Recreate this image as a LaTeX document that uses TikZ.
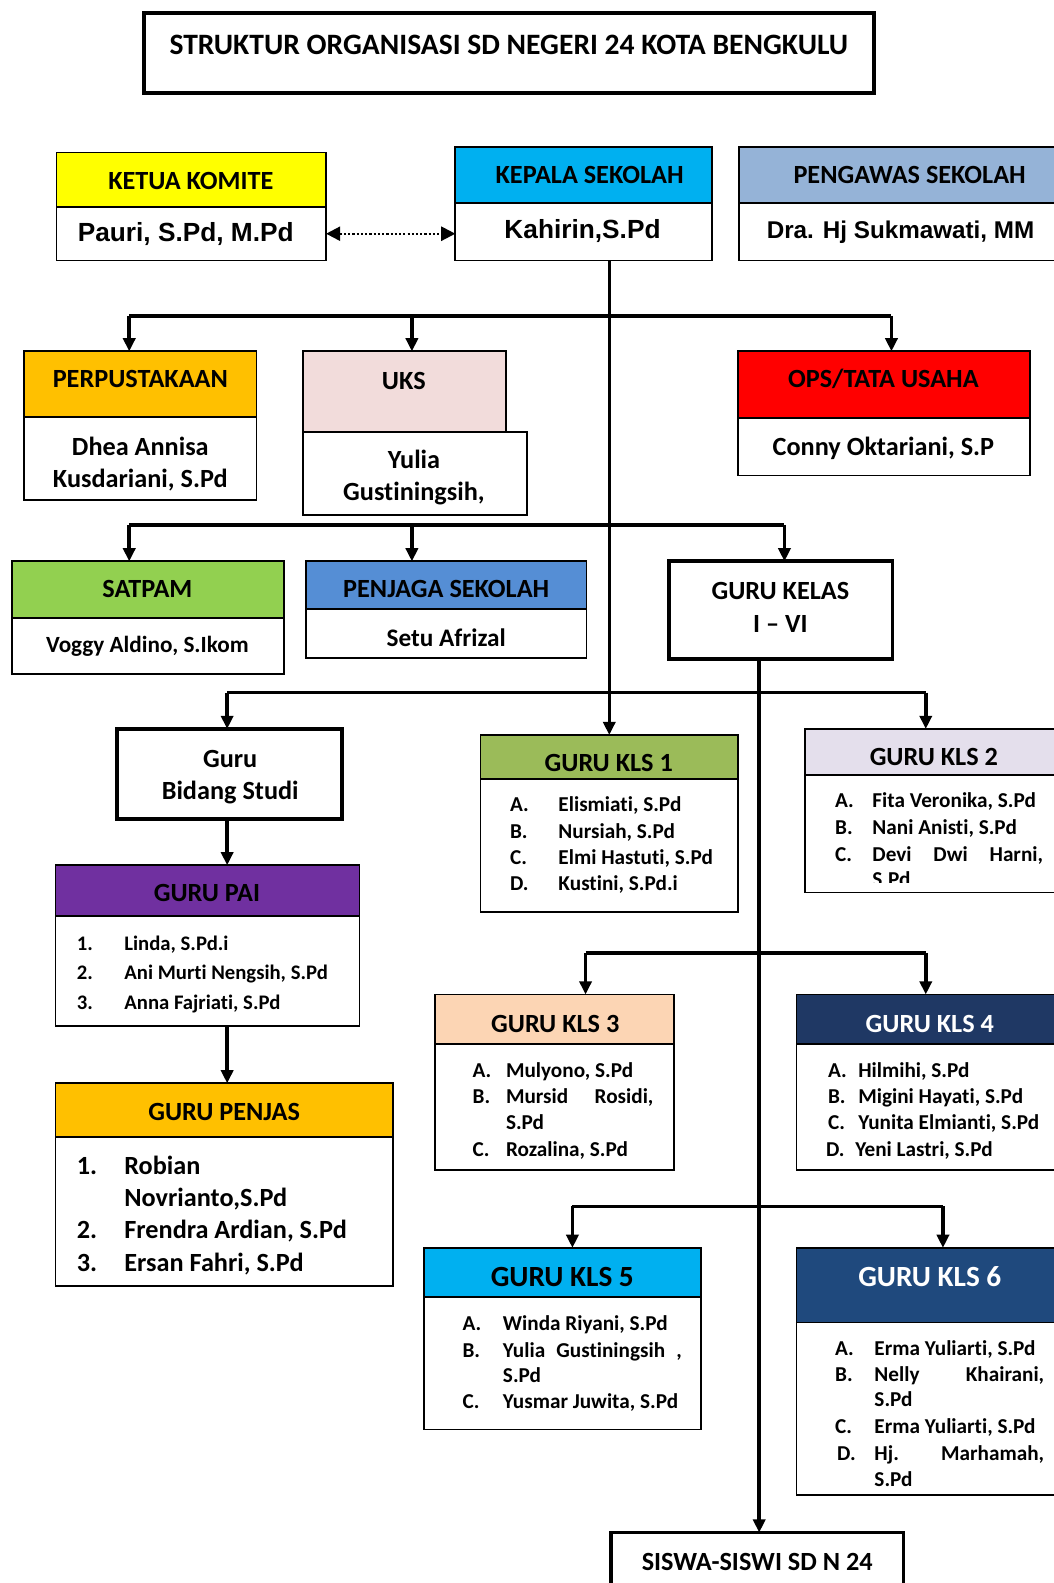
\documentclass[tikz,border=0pt]{standalone}
\usepackage{fontspec}
\setmainfont[Ligatures=NoCommon]{Carlito}
\newfontfamily\arialf{Liberation Sans}
\usetikzlibrary{arrows.meta}
\definecolor{cYel}{HTML}{FFFF00}
\definecolor{cCyan}{HTML}{00B0F0}
\definecolor{cPeng}{HTML}{95B3D7}
\definecolor{cOrange}{HTML}{FFC000}
\definecolor{cUks}{HTML}{F2DCDB}
\definecolor{cRed}{HTML}{FF0000}
\definecolor{cGreen}{HTML}{92D050}
\definecolor{cBlue}{HTML}{558ED5}
\definecolor{cOlive}{HTML}{9BBB59}
\definecolor{cLav}{HTML}{E4DFEC}
\definecolor{cPurple}{HTML}{7030A0}
\definecolor{cPeach}{HTML}{FCD5B4}
\definecolor{cNavy}{HTML}{1F3864}
\definecolor{cDBlue}{HTML}{1F497D}
\tikzset{
  box/.style={draw, line width=1.8pt, inner sep=0pt, outer sep=0pt, anchor=north west, fill=white},
  tbox/.style={box, line width=3.8pt},
  t/.style={inner sep=0pt, yshift=-6pt, text height=0.644em, text depth=0pt, font=\bfseries\fontsize{26}{30}\selectfont},
  ta/.style={inner sep=0pt, yshift=-6pt, text height=0.716em, text depth=0pt, font=\arialf\bfseries\fontsize{26}{30}\selectfont},
  it/.style={t, anchor=west, font=\bfseries\fontsize{21}{25}\selectfont},
  itp/.style={t, anchor=west, font=\bfseries\fontsize{20.5}{25}\selectfont},
  itb/.style={t, anchor=west, font=\bfseries\fontsize{26}{30}\selectfont},
  line/.style={line width=3.5pt},
  conn/.style={line width=3.5pt, -{Triangle[length=13pt,width=12pt]}},
  dconn/.style={line width=2.2pt, dotted, {Triangle[length=14pt,width=14pt]}-{Triangle[length=14pt,width=14pt]}},
}
\newcommand\bx[6]{\node[#6,minimum width={(#4-#2)*1pt},minimum height={(#5-#3)*1pt}] (#1) at (#2,#3) {};}
\begin{document}
\begin{tikzpicture}[x=1pt,y=-1pt]
\useasboundingbox (0,0) rectangle (1044,1568);
\clip (0,0) rectangle (1044,1568);
% title
\bx{title}{143}{13}{866}{92}{tbox}
\node[t, font=\bfseries\fontsize{29.3}{33}\selectfont] (titleT) at (504,45) {STRUKTUR ORGANISASI SD NEGERI 24 KOTA BENGKULU};
% ketua komite
\bx{ketH}{56}{151}{323}{205}{box,fill=cYel}
\bx{ketB}{56}{205}{323}{258}{box}
\node[t] (ketT) at (189,178) {KETUA KOMITE};
\node[ta] (ketN) at (184,230) {Pauri, S.Pd, M.Pd};
% kepala sekolah
\bx{kepH}{451}{146}{705}{201}{box,fill=cCyan}
\bx{kepB}{451}{201}{705}{258}{box}
\node[t] (kepT) at (584,173) {KEPALA SEKOLAH};
\node[ta] (kepN) at (577,227) {Kahirin,S.Pd};
% pengawas
\bx{pgH}{732}{146}{1070}{201}{box,fill=cPeng}
\bx{pgB}{732}{201}{1070}{258}{box}
\node[t] (pgT) at (901,173) {PENGAWAS SEKOLAH};
\node[ta, font=\arialf\bfseries\fontsize{24}{28}\selectfont] (pgN) at (892,227) {Dra. Hj Sukmawati, MM};
% perpustakaan
\bx{perH}{24}{348}{254}{413}{box,fill=cOrange}
\bx{perB}{24}{413}{254}{495}{box}
\node[t] (perT) at (139,375) {PERPUSTAKAAN};
\node[t] (perN1) at (139,442) {Dhea Annisa};
\node[t] (perN2) at (139,474) {Kusdariani, S.Pd};
% uks
\bx{uksH}{300}{348}{501}{428}{box,fill=cUks}
\bx{uksB}{300}{428}{522}{510}{box}
\node[t] (uksT) at (400,377) {UKS};
\node[t] (uksN1) at (410,455) {Yulia};
\node[t] (uksN2) at (410,487) {Gustiningsih,};
% ops
\bx{opsH}{731}{348}{1020}{414}{box,fill=cRed}
\bx{opsB}{731}{414}{1020}{471}{box}
\node[t] (opsT) at (875,375) {OPS/TATA USAHA};
\node[t] (opsN) at (875,442) {Conny Oktariani, S.P};
% satpam
\bx{satH}{12}{556}{281}{612}{box,fill=cGreen}
\bx{satB}{12}{612}{281}{668}{box}
\node[t] (satT) at (146,583) {SATPAM};
\node[t, font=\bfseries\fontsize{23}{27}\selectfont] (satN) at (146,637) {Voggy Aldino, S.Ikom};
% penjaga
\bx{pjH}{303}{556}{581}{603}{box,fill=cBlue}
\bx{pjB}{303}{603}{581}{652}{box}
\node[t] (pjT) at (442,583) {PENJAGA SEKOLAH};
\node[t, font=\bfseries\fontsize{25}{29}\selectfont] (pjN) at (442,631) {Setu Afrizal};
% guru kelas
\bx{gk}{663}{556}{884}{653}{tbox}
\node[t] (gkT1) at (773,585) {GURU KELAS};
\node[t] (gkT2) at (773,617) {I -- VI};
% guru bidang studi
\bx{gbs}{116}{722}{339}{811}{tbox}
\node[t] (gbsT1) at (228,751) {Guru};
\node[t] (gbsT2) at (228,783) {Bidang Studi};
% guru pai
\bx{paiH}{55}{857}{356}{907}{box,fill=cPurple}
\bx{paiB}{55}{907}{356}{1016}{box}
\node[t] (paiT) at (205,884) {GURU PAI};
\node[itp] (pai1n) at (76,932) {1.};
\node[itp] (pai1) at (123,932) {Linda, S.Pd.i};
\node[itp] (pai2n) at (76,961) {2.};
\node[itp] (pai2) at (123,961) {Ani Murti Nengsih, S.Pd};
\node[itp] (pai3n) at (76,991) {3.};
\node[itp] (pai3) at (123,991) {Anna Fajriati, S.Pd};
% guru penjas
\bx{pjsH}{55}{1073}{389}{1126}{box,fill=cOrange}
\bx{pjsB}{55}{1126}{389}{1274}{box}
\node[t] (pjsT) at (222,1101) {GURU PENJAS};
\node[itb] (pjs1n) at (76,1154) {1.};
\node[itb] (pjs1) at (123,1154) {Robian};
\node[itb] (pjs1b) at (123,1186) {Novrianto,S.Pd};
\node[itb] (pjs2n) at (76,1218) {2.};
\node[itb] (pjs2) at (123,1218) {Frendra Ardian, S.Pd};
\node[itb] (pjs3n) at (76,1250) {3.};
\node[itb] (pjs3) at (123,1250) {Ersan Fahri, S.Pd};
% kls 1
\bx{k1H}{476}{728}{731}{772}{box,fill=cOlive}
\bx{k1B}{476}{772}{731}{903}{box}
\node[t] (k1T) at (603,755) {GURU KLS 1};
\node[it] (k1an) at (505,795) {A.};
\node[it] (k1a) at (553,795) {Elismiati, S.Pd};
\node[it] (k1bn) at (505,821) {B.};
\node[it] (k1b) at (553,821) {Nursiah, S.Pd};
\node[it] (k1cn) at (505,847) {C.};
\node[it] (k1c) at (553,847) {Elmi Hastuti, S.Pd};
\node[it] (k1dn) at (505,873) {D.};
\node[it] (k1d) at (553,873) {Kustini, S.Pd.i};
% kls 2
\bx{k2H}{797}{722}{1070}{768}{box,fill=cLav}
\bx{k2B}{797}{768}{1070}{884}{box}
\node[t] (k2T) at (925,749) {GURU KLS 2};
\node[it] (k2an) at (827,791) {A.};
\node[it] (k2a) at (864,791) {Fita Veronika, S.Pd};
\node[it] (k2bn) at (827,817) {B.};
\node[it] (k2b) at (864,817) {Nani Anisti, S.Pd};
\node[it] (k2cn) at (827,844) {C.};
\node[it] (k2c) at (864,844) {\makebox[169pt][s]{Devi Dwi Harni,}};
\begin{scope}
\clip (797,768) rectangle (1070,874);
\node[it] (k2c2) at (864,869) {S.Pd};
\end{scope}
% kls 3
\bx{k3H}{431}{985}{668}{1034}{box,fill=cPeach}
\bx{k3B}{431}{1034}{668}{1159}{box}
\node[t] (k3T) at (550,1013) {GURU KLS 3};
\node[it] (k3an) at (468,1058) {A.};
\node[it] (k3a) at (501,1058) {Mulyono, S.Pd};
\node[it] (k3bn) at (468,1084) {B.};
\node[it] (k3b) at (501,1084) {\makebox[146pt][s]{Mursid Rosidi,}};
\node[it] (k3b2) at (501,1110) {S.Pd};
\node[it] (k3cn) at (468,1136) {C.};
\node[it] (k3c) at (501,1136) {Rozalina, S.Pd};
% kls 4
\bx{k4H}{789}{985}{1070}{1034}{box,fill=cNavy}
\bx{k4B}{789}{1034}{1070}{1159}{box}
\node[t, text=white] (k4T) at (921,1013) {GURU KLS 4};
\node[it] (k4an) at (820,1058) {A.};
\node[it] (k4a) at (850,1058) {Hilmihi, S.Pd};
\node[it] (k4bn) at (820,1084) {B.};
\node[it] (k4b) at (850,1084) {Migini Hayati, S.Pd};
\node[it] (k4cn) at (820,1110) {C.};
\node[it] (k4c) at (850,1110) {Yunita Elmianti, S.Pd};
\node[it] (k4dn) at (818,1136) {D.};
\node[it] (k4d) at (847,1136) {Yeni Lastri, S.Pd};
% kls 5
\bx{k5H}{420}{1236}{694}{1285}{box,fill=cCyan}
\bx{k5B}{420}{1285}{694}{1416}{box}
\node[t, font=\bfseries\fontsize{29}{33}\selectfont] (k5T) at (557,1265) {GURU KLS 5};
\node[it] (k5an) at (458,1309) {A.};
\node[it] (k5a) at (498,1309) {Winda Riyani, S.Pd};
\node[it] (k5bn) at (458,1335) {B.};
\node[it] (k5b) at (498,1335) {\makebox[177pt][s]{Yulia Gustiningsih ,}};
\node[it] (k5b2) at (498,1360) {S.Pd};
\node[it] (k5cn) at (458,1386) {C.};
\node[it] (k5c) at (498,1386) {Yusmar Juwita, S.Pd};
% kls 6
\bx{k6H}{789}{1236}{1070}{1310}{box,fill=cDBlue}
\bx{k6B}{789}{1310}{1070}{1481}{box}
\node[t, text=white, font=\bfseries\fontsize{29}{33}\selectfont] (k6T) at (921,1265) {GURU KLS 6};
\node[it] (k6an) at (827,1333) {A.};
\node[it] (k6a) at (866,1333) {Erma Yuliarti, S.Pd};
\node[it] (k6bn) at (827,1359) {B.};
\node[it] (k6b) at (866,1359) {\makebox[168pt][s]{Nelly Khairani,}};
\node[it] (k6b2) at (866,1384) {S.Pd};
\node[it] (k6cn) at (827,1411) {C.};
\node[it] (k6c) at (866,1411) {Erma Yuliarti, S.Pd};
\node[it] (k6dn) at (829,1437) {D.};
\node[it] (k6d) at (866,1437) {\makebox[168pt][s]{Hj. Marhamah,}};
\node[it] (k6d2) at (866,1463) {S.Pd};
% siswa
\bx{sis}{605}{1518}{895}{1600}{tbox}
\node[t] (sisT) at (750,1546) {SISWA-SISWI SD N 24};
% junctions
\coordinate (j1a) at (128,313);
\coordinate (j1b) at (408,313);
\coordinate (j1c) at (883,313);
\coordinate (j2a) at (128,520);
\coordinate (j2b) at (408,520);
\coordinate (j2c) at (777,520);
\coordinate (j3a) at (225,686);
\coordinate (j3b) at (917,686);
\coordinate (j4a) at (580,944);
\coordinate (j4b) at (917,944);
\coordinate (j5a) at (567,1195);
\coordinate (j5b) at (934,1195);
\coordinate (gkx) at (752,1517);
% connectors
\draw[dconn] (ketB.east) -- (ketB.east -| kepB.west);
\draw[conn] (k1H.north |- kepB.south) -- (k1H.north);
\draw[line] (j1a) -- (j1c);
\draw[conn] (j1a) -- (j1a |- perH.north);
\draw[conn] (j1b) -- (j1b |- uksH.north);
\draw[conn] (j1c) -- (j1c |- opsH.north);
\draw[line] (j2a) -- (j2c);
\draw[conn] (j2a) -- (j2a |- satH.north);
\draw[conn] (j2b) -- (j2b |- pjH.north);
\draw[conn] (j2c) -- (j2c |- gk.north);
\draw[line] (j3a) -- (j3b);
\draw[conn] (j3a) -- (j3a |- gbs.north);
\draw[conn] (j3b) -- (j3b |- k2H.north);
\draw[conn] (j3a |- gbs.south) -- (j3a |- paiH.north);
\draw[conn] (j3a |- paiB.south) -- (j3a |- pjsH.north);
\draw[conn] (gkx |- gk.south) -- (gkx |- sis.north);
\draw[line] (j4a) -- (j4b);
\draw[conn] (j4a) -- (j4a |- k3H.north);
\draw[conn] (j4b) -- (j4b |- k4H.north);
\draw[line] (j5a) -- (j5b);
\draw[conn] (j5a) -- (j5a |- k5H.north);
\draw[conn] (j5b) -- (j5b |- k6H.north);
\end{tikzpicture}
\end{document}
